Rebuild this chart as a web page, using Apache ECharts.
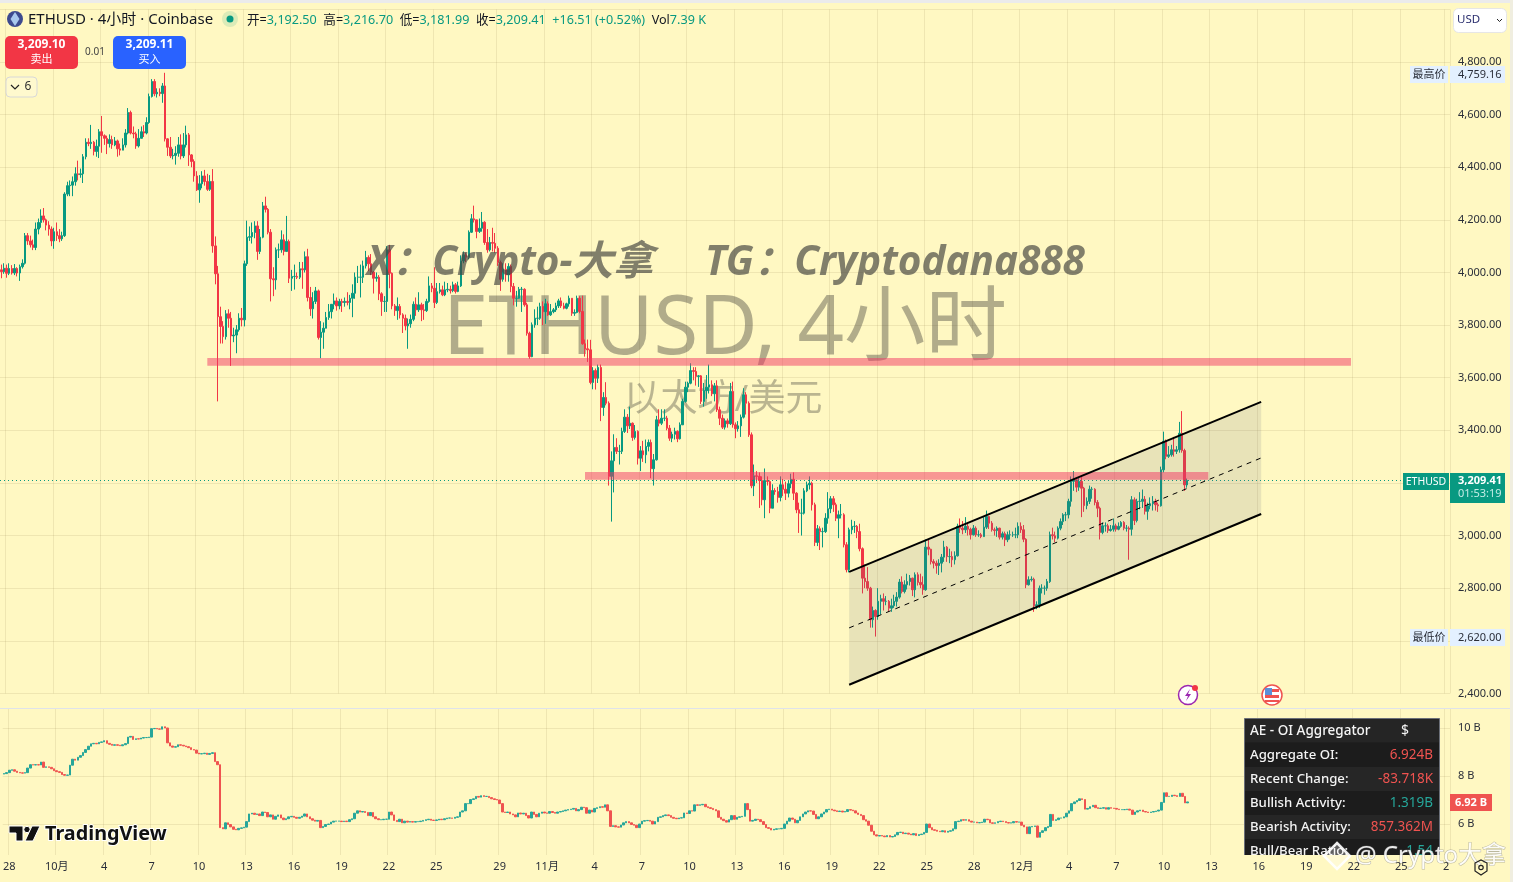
<!DOCTYPE html>
<html>
<head>
<meta charset="utf-8">
<title>ETHUSD 4H</title>
<style>
html, body { margin: 0; padding: 0; background: #FFF8C2; }
#chart { width: 1513px; height: 882px; }
</style>
<script src="https://cdn.jsdelivr.net/npm/echarts@6/dist/echarts.min.js"></script>
</head>
<body>
<div id="chart"></div>
<script>
// values, one column per 4h candle
var firstOpen = 4010;
var closes = [
4003,4016,3997,4015,3998,4015,3998,4022,4035,4140,
4120,4105,4095,4165,4190,4215,4200,4180,4165,4120,
4155,4140,4128,4140,4298,4330,4332,4345,4375,4372,
4375,4440,4495,4490,4495,4460,4480,4535,4520,4510,
4490,4505,4485,4500,4470,4465,4485,4530,4608,4530,
4527,4481,4510,4535,4530,4570,4669,4726,4679,4685,
4680,4709,4508,4476,4443,4445,4453,4485,4443,4485,
4523,4447,4422,4367,4314,4337,4367,4346,4316,4346,
4101,3995,3832,3795,3756,3843,3826,3759,3762,3782,
3826,3820,4033,4134,4136,4152,4177,4080,4134,4253,
4240,4153,3976,3972,4086,4086,4124,4080,4118,3978,
3985,3985,3982,4014,4010,4060,3905,3862,3890,3930,
3753,3773,3788,3829,3851,3879,3892,3873,3890,3886,
3890,3886,3902,3921,3982,3982,3982,4025,4057,4033,
4002,3978,3982,3919,3890,3890,4086,3997,3873,3855,
3871,3839,3826,3797,3805,3822,3879,3858,3877,3858,
3855,3890,3949,3940,3886,3927,3934,3915,3934,3936,
3931,3953,3928,3949,4044,4067,4058,4153,4204,4200,
4156,4168,4191,4114,4086,4114,4111,4092,4038,3974,
4012,3991,4023,3947,3902,3902,3936,3936,3877,3769,
3680,3801,3826,3826,3871,3851,3881,3839,3851,3858,
3873,3892,3873,3864,3881,3902,3845,3848,3902,3852,
3729,3710,3706,3582,3627,3598,3639,3487,3525,3503,
3225,3284,3335,3320,3320,3396,3450,3417,3427,3373,
3396,3294,3322,3307,3339,3354,3254,3288,3440,3427,
3446,3446,3408,3370,3385,3396,3368,3421,3510,3564,
3579,3627,3624,3605,3607,3510,3551,3564,3573,3539,
3569,3478,3446,3412,3436,3425,3548,3421,3406,3417,
3450,3535,3503,3383,3189,3227,3225,3209,3136,3209,
3205,3104,3171,3167,3145,3193,3176,3161,3197,3214,
3161,3098,3085,3085,3170,3193,3199,3117,2974,3026,
3015,3015,3066,3102,3140,3117,3066,3079,3079,2965,
2870,3022,3035,3035,3015,2950,2838,2825,2800,2680,
2715,2692,2750,2760,2750,2750,2724,2733,2750,2766,
2823,2787,2813,2825,2838,2794,2851,2822,2813,2794,
2956,2948,2901,2895,2886,2895,2918,2956,2920,2920,
2908,2923,3035,3028,3022,3035,3024,3003,3028,3003,
3003,2996,3032,3072,3047,3022,3019,3028,2994,3007,
2984,3003,3003,3003,3003,3035,3022,2986,2813,2832,
2834,2733,2737,2800,2800,2800,2825,3003,2999,2990,
3028,3053,3079,3079,3130,3206,3212,3184,3206,3180,
3114,3130,3176,3176,3126,3104,3012,3037,3037,3019,
3024,3037,3024,3035,3050,3028,3028,3024,3136,3057,
3130,3130,3138,3092,3113,3121,3130,3117,3113,3250,
3358,3301,3307,3326,3320,3326,3389,3323,3192.5,3209.41
];
var highs = [
4030,4035,4030,4035,4028,4032,4020,4030,4050,4150,
4150,4140,4125,4190,4205,4240,4245,4205,4195,4175,
4170,4190,4165,4155,4305,4345,4350,4365,4400,4425,
4395,4450,4510,4510,4561,4500,4505,4545,4595,4525,
4520,4525,4520,4515,4505,4490,4510,4545,4625,4615,
4555,4535,4545,4555,4560,4590,4680,4735,4735,4700,
4700,4720,4759,4510,4515,4470,4480,4515,4525,4530,
4558,4530,4450,4430,4385,4370,4385,4390,4375,4370,
4393,4137,4025,3870,3815,3857,3860,3850,3790,3800,
3845,3865,4045,4197,4175,4190,4195,4195,4165,4268,
4288,4245,4165,4020,4095,4110,4160,4145,4215,4125,
4010,4030,4000,4040,4040,4080,4090,3945,3925,3945,
3935,3815,3810,3850,3880,3880,3920,3905,3900,3900,
3905,3925,3915,3955,4000,4025,4030,4045,4082,4065,
4070,4005,4000,3990,3925,3910,4100,4105,4000,3880,
3905,3880,3845,3840,3825,3840,3890,3905,3925,3885,
3880,3900,3985,3960,4020,3960,3960,3950,3965,3960,
3950,3965,3960,3965,4065,4080,4075,4160,4222,4254,
4200,4205,4230,4195,4165,4135,4170,4150,4100,4045,
4035,4035,4035,4030,3960,3930,3945,3945,3940,3885,
3775,3810,3860,3870,3885,3890,3900,3890,3880,3865,
3885,3900,3905,3885,3885,3912,3900,3860,3912,3910,
3912,3745,3745,3744,3640,3635,3650,3650,3545,3583,
3510,3320,3385,3370,3345,3410,3480,3462,3490,3430,
3420,3400,3340,3360,3365,3365,3365,3310,3455,3480,
3480,3480,3455,3420,3395,3410,3400,3430,3520,3585,
3585,3655,3640,3640,3610,3610,3580,3610,3650,3590,
3580,3590,3490,3460,3445,3445,3580,3585,3430,3435,
3460,3560,3545,3510,3392,3270,3245,3240,3225,3255,
3225,3210,3195,3180,3185,3225,3215,3205,3210,3235,
3240,3165,3125,3140,3180,3205,3225,3205,3125,3040,
3035,3030,3085,3165,3150,3150,3125,3095,3120,3085,
2975,3030,3060,3055,3040,3045,2955,2890,2880,2805,
2730,2720,2800,2775,2780,2770,2755,2760,2775,2785,
2835,2845,2830,2855,2850,2840,2860,2860,2855,2845,
2985,2985,2950,2910,2905,2910,2930,2980,2960,2950,
2940,2940,3045,3065,3055,3070,3050,3030,3040,3035,
3020,3010,3070,3095,3075,3055,3030,3035,3030,3015,
3015,3015,3020,3015,3030,3050,3050,3040,2990,2845,
2845,2840,2750,2810,2815,2810,2835,3015,3030,3015,
3035,3065,3085,3090,3140,3225,3245,3215,3220,3225,
3185,3145,3190,3185,3180,3135,3110,3050,3050,3045,
3040,3065,3045,3050,3055,3055,3040,3035,3150,3145,
3140,3165,3175,3150,3125,3145,3150,3140,3125,3262,
3395,3365,3340,3345,3375,3340,3432,3473,3330,3216.7
];
var lows = [
3978,3995,3980,3990,3992,3990,3985,3968,4015,4030,
4105,4095,4085,4085,4145,4170,4190,4160,4140,4100,
4090,4120,4115,4120,4135,4290,4290,4290,4330,4350,
4360,4340,4430,4480,4470,4445,4440,4435,4455,4485,
4450,4475,4470,4480,4440,4445,4470,4475,4525,4525,
4510,4470,4475,4510,4515,4525,4565,4665,4670,4665,
4670,4645,4498,4443,4435,4430,4410,4440,4430,4435,
4475,4405,4400,4345,4310,4265,4320,4330,4310,4310,
4075,3955,3510,3730,3730,3745,3790,3645,3735,3693,
3775,3795,3795,4025,4120,4110,4130,4048,4070,4130,
4228,4145,3890,3910,3935,4055,4075,4065,4095,3960,
3930,3935,3975,3975,3938,4000,3890,3835,3825,3880,
3745,3674,3710,3790,3820,3825,3860,3855,3860,3850,
3870,3875,3860,3830,3900,3960,3905,3960,4015,4005,
3990,3920,3965,3895,3835,3850,3850,3940,3860,3835,
3820,3825,3770,3780,3710,3790,3815,3835,3850,3815,
3820,3850,3885,3925,3865,3880,3920,3910,3910,3925,
3920,3925,3920,3925,3945,4035,4040,4050,4150,4190,
4130,4150,4155,4105,4075,4080,4080,4075,4025,3930,
3965,3965,3965,3925,3875,3870,3900,3850,3870,3760,
3672,3678,3790,3800,3820,3800,3805,3835,3835,3845,
3850,3865,3865,3860,3860,3870,3835,3835,3845,3845,
3725,3680,3660,3575,3556,3555,3580,3435,3455,3495,
3190,3053,3164,3310,3270,3310,3390,3390,3405,3360,
3365,3270,3245,3280,3275,3320,3218,3190,3285,3415,
3420,3435,3400,3360,3355,3365,3355,3365,3420,3505,
3545,3575,3590,3570,3565,3500,3490,3520,3540,3530,
3510,3470,3420,3405,3403,3410,3420,3410,3370,3395,
3375,3445,3460,3375,3180,3150,3200,3105,3115,3066,
3190,3085,3130,3155,3125,3130,3150,3135,3145,3180,
3135,3085,3010,3000,3080,3165,3175,3095,2960,2960,
2945,2955,3010,3045,3085,3090,3055,2990,3065,2955,
2860,2860,3005,3010,2990,2940,2780,2800,2790,2650,
2650,2616,2680,2700,2715,2735,2710,2710,2725,2730,
2760,2780,2780,2795,2810,2770,2765,2810,2800,2775,
2790,2925,2890,2875,2855,2850,2860,2900,2900,2895,
2880,2890,2920,3010,3005,3010,3000,2985,3000,2995,
2995,2990,2995,3025,3025,3015,3000,2995,2985,2985,
2960,2975,2985,2995,2990,2990,3010,2975,2800,2810,
2825,2710,2720,2725,2780,2775,2790,2820,2985,2975,
2985,3020,3040,3055,3065,3110,3170,3165,3170,3070,
3090,3100,3120,3140,3115,3070,2985,3005,3015,3010,
3015,3015,3015,3020,3030,3020,3015,2908,3000,3040,
3050,3100,3105,3080,3060,3100,3095,3095,3090,3110,
3240,3290,3295,3300,3300,3310,3315,3315,3170,3181.99
];
// open interest panel, billions
var oiFirstOpen = 8.08;
var oiCloses = [
8.10,8.14,8.24,8.26,8.20,8.15,8.13,8.12,8.14,8.33,
8.47,8.46,8.47,8.46,8.58,8.36,8.38,8.36,8.30,8.22,
8.18,8.15,8.06,8.03,8.04,8.45,8.70,8.66,8.78,8.85,
8.98,9.10,9.24,9.34,9.36,9.34,9.40,9.42,9.47,9.36,
9.32,9.28,9.30,9.28,9.26,9.30,9.35,9.62,9.65,9.52,
9.55,9.54,9.58,9.60,9.60,9.62,9.97,9.98,9.96,9.95,
10.05,10.00,9.38,9.25,9.20,9.22,9.30,9.28,9.25,9.22,
9.18,9.10,9.08,8.95,8.92,8.93,8.95,8.90,8.94,8.97,
8.60,8.47,5.85,5.80,6.05,5.98,5.88,5.78,5.76,5.82,
5.84,5.87,6.10,6.42,6.45,6.40,6.42,6.35,6.50,6.48,
6.30,6.38,6.20,6.32,6.38,6.25,6.18,6.22,6.30,6.32,
6.28,6.24,6.28,6.33,6.42,6.30,6.22,6.16,6.12,6.15,
5.85,5.90,5.98,6.00,6.08,6.12,6.12,6.12,6.10,6.12,
6.10,6.18,6.22,6.45,6.55,6.50,6.52,6.48,6.35,6.48,
6.30,6.22,6.18,6.18,6.20,6.20,6.50,6.38,6.15,6.10,
6.20,6.05,6.12,6.08,6.10,6.08,6.10,6.10,6.12,6.15,
6.18,6.20,6.16,6.15,6.17,6.20,6.18,6.22,6.25,6.25,
6.24,6.28,6.30,6.50,6.55,6.85,6.85,7.02,7.05,7.15,
7.12,7.18,7.15,7.15,7.10,7.05,7.02,7.00,6.85,6.50,
6.48,6.50,6.42,6.38,6.30,6.46,6.42,6.45,6.35,6.25,
6.50,6.40,6.30,6.45,6.50,6.46,6.45,6.52,6.48,6.45,
6.50,6.52,6.55,6.58,6.60,6.62,6.65,6.55,6.60,6.70,
6.68,6.45,6.58,6.50,6.65,6.68,6.72,6.70,6.80,6.55,
5.90,5.93,5.88,5.87,5.96,6.05,6.10,6.05,5.98,5.95,
5.85,6.00,6.12,6.14,6.15,6.12,6.00,6.10,6.28,6.30,
6.35,6.38,6.35,6.28,6.24,6.22,6.25,6.26,6.46,6.44,
6.55,6.54,6.80,6.78,6.80,6.82,6.72,6.68,6.65,6.60,
6.55,6.28,6.20,6.14,6.08,6.18,6.35,6.20,6.28,6.30,
6.32,6.85,6.60,6.12,6.15,6.20,6.18,6.10,5.98,5.85,
5.82,5.75,5.78,5.80,5.80,5.82,6.00,6.12,6.25,6.20,
6.05,6.15,6.30,6.42,6.50,6.55,6.54,6.40,6.22,6.30,
6.42,6.50,6.60,6.62,6.58,6.55,6.52,6.54,6.50,6.52,
6.60,6.58,6.55,6.46,6.40,6.35,6.18,6.12,5.95,5.70,
5.55,5.50,5.52,5.50,5.47,5.52,5.46,5.48,5.55,5.65,
5.66,5.60,5.62,5.58,5.55,5.60,5.52,5.56,5.58,5.65,
6.00,5.85,5.76,5.74,5.70,5.68,5.72,5.66,5.70,5.72,
5.80,6.10,6.12,6.18,6.16,6.18,6.12,6.08,6.08,6.05,
6.06,6.08,6.20,6.18,6.05,6.03,6.05,6.10,6.12,6.10,
6.06,6.04,6.05,6.10,6.08,6.08,5.95,5.88,5.60,5.88,
5.90,5.92,5.45,5.65,5.72,5.85,5.90,6.40,6.15,6.18,
6.25,6.25,6.30,6.45,6.55,6.85,6.92,6.98,7.05,7.02,
6.62,6.65,6.72,6.78,6.68,6.65,6.66,6.68,6.62,6.68,
6.66,6.65,6.62,6.60,6.60,6.60,6.62,6.58,6.40,6.50,
6.55,6.58,6.52,6.50,6.48,6.50,6.52,6.54,6.58,6.90,
7.30,7.15,7.15,7.20,7.18,7.15,7.28,7.15,6.88,6.92
];
// x axis: slot number of each date label
var tickSlots = [2,20,38,56,74,92,110,128,146,164,188,206,224,242,260,278,296,314,332,350,368,386,404,422,440,458,476,494,512,530,547];
var tickTexts = ['28','10月','4','7','10','13','16','19','22','25','29','11月','4','7','10','13','16','19','22','25','28','12月','4','7','10','13','16','19','22','25','2'];
var slotCount = 549;
var priceTicks = [6, 8, 10];
var lastPrice = 3209.41;
// drawings: [slot, price]
var bandUpper = [78, 511, 3645, 3675];
var bandLower = [221, 457, 3212, 3242];
var channelTop = [[321, 2862], [477, 3508]];
var channelMid = [[321, 2649], [477, 3295]];
var channelBottom = [[321, 2433], [477, 3082]];
// the stats table
var tableRows = ['Aggregate OI:', 'Recent Change:', 'Bullish Activity:', 'Bearish Activity:', 'Bull/Bear Ratio:'];
var tableVals = ['6.924B', '-83.718K', '1.319B', '857.362M', '1.54'];

var UP = '#089981', DOWN = '#F23645', OI_UP = '#26A69A', OI_DOWN = '#EF5350';
var GRID = 'rgba(120,110,60,0.12)';
var FONT = '"Noto Sans","Noto Sans CJK SC",sans-serif';
var INK = '#2a2e39';

var categories = [];
for (var i = 0; i < slotCount; i++) {
    var at = tickSlots.indexOf(i);
    categories.push(at >= 0 ? tickTexts[at] : '');
}
function isTick(i) { return tickSlots.indexOf(i) >= 0; }

var candles = closes.map(function (c, i) {
    var o = i === 0 ? firstOpen : closes[i - 1];
    return [o, c, Math.min(lows[i], o, c), Math.max(highs[i], o, c)];
});
var oiCandles = oiCloses.map(function (c, i) {
    var o = i === 0 ? oiFirstOpen : oiCloses[i - 1];
    return [o, c, Math.min(o, c), Math.max(o, c)];
});

function drawDrawings(params, api) {
    function pt(p) { return api.coord(p); }
    function band(b, color) {
        var a = api.coord([b[0], b[3]]), c = api.coord([b[1], b[2]]);
        return { type: 'rect', shape: { x: a[0], y: a[1], width: c[0] - a[0], height: c[1] - a[1] }, style: { fill: color } };
    }
    function seg(line, dash, w) {
        var a = pt(line[0]), b = pt(line[1]);
        return { type: 'line', shape: { x1: a[0], y1: a[1], x2: b[0], y2: b[1] }, style: { stroke: '#000', lineWidth: w, lineDash: dash } };
    }
    return {
        type: 'group',
        children: [
            { type: 'polygon', shape: { points: [pt(channelTop[0]), pt(channelTop[1]), pt(channelBottom[1]), pt(channelBottom[0])] }, style: { fill: 'rgba(100,110,130,0.15)' } },
            band(bandUpper, 'rgba(242,54,100,0.5)'),
            band(bandLower, 'rgba(242,54,100,0.5)'),
            seg(channelTop, null, 2),
            seg(channelBottom, null, 2),
            seg(channelMid, [5, 5], 1)
        ]
    };
}

function box(x, y, w, h, fill, r, z, stroke) {
    return { type: 'rect', z: z || 30, shape: { x: x, y: y, width: w, height: h, r: r || 0 }, style: { fill: fill, stroke: stroke, lineWidth: stroke ? 1 : 0 } };
}
function label(x, y, text, size, color, extra) {
    var st = { x: x, y: y, text: text, fontFamily: FONT, fontSize: size, fill: color, textAlign: 'left', textVerticalAlign: 'middle' };
    extra = extra || {};
    for (var k in extra) { if (k !== 'z') st[k] = extra[k]; }
    return { type: 'text', z: extra.z || 31, style: st };
}

var elements = [
    // watermarks
    label(725, 331, 'ETHUSD, 4小时', 81.5, 'rgba(40,40,40,0.36)', { textAlign: 'center', z: 1 }),
    label(723, 400, '以太坊/美元', 37, 'rgba(40,40,40,0.32)', { textAlign: 'center', z: 1 }),
    label(367, 263, 'X：Crypto-大拿', 40.5, 'rgba(70,70,65,0.68)', { fontWeight: 'bold', fontStyle: 'italic', z: 20 }),
    label(705, 263, 'TG：Cryptodana888', 40.5, 'rgba(70,70,65,0.68)', { fontWeight: 'bold', fontStyle: 'italic', z: 20 }),

    // frame
    box(0, 0, 1513, 3, '#ebebeb', 0, 40),
    box(1510, 0, 3, 882, '#f0eee0', 0, 40),
    box(0, 708, 1450, 1, '#dfe3ea', 0, 5),
    box(1450, 708, 60, 1, '#dfe3ea', 0, 5),

    // legend
    { type: 'circle', z: 31, shape: { cx: 15, cy: 19, r: 8 }, style: { fill: '#3d4a8f' } },
    { type: 'polygon', z: 32, shape: { points: [[15, 12], [19.5, 19], [15, 26], [10.5, 19]] }, style: { fill: '#a9c8ee' } },
    label(28, 20, 'ETHUSD · 4小时 · Coinbase', 15, '#131722'),
    { type: 'circle', z: 31, shape: { cx: 230, cy: 19, r: 8 }, style: { fill: 'rgba(8,153,129,0.14)' } },
    { type: 'circle', z: 32, shape: { cx: 230, cy: 19, r: 3.5 }, style: { fill: UP } },
    {
        type: 'text', z: 31,
        style: {
            x: 247, y: 20, textVerticalAlign: 'middle', fontFamily: FONT, fontSize: 12.6,
            text: '{k|开=}{v|3,192.50}  {k|高=}{v|3,216.70}  {k|低=}{v|3,181.99}  {k|收=}{v|3,209.41}  {v|+16.51 (+0.52%)}  {k|Vol}{v|7.39 K}',
            rich: {
                k: { fill: '#131722', fontSize: 12.6, fontFamily: FONT },
                v: { fill: UP, fontSize: 12.6, fontFamily: FONT }
            }
        }
    },
    // buy and sell buttons
    box(5, 36, 73, 33, DOWN, 5),
    label(41.5, 45, '3,209.10', 12, '#fff', { textAlign: 'center', fontWeight: 'bold' }),
    label(41.5, 60, '卖出', 11, '#fff', { textAlign: 'center' }),
    label(95, 52, '0.01', 10, '#444', { textAlign: 'center' }),
    box(113, 36, 73, 33, '#2962FF', 5),
    label(149.5, 45, '3,209.11', 12, '#fff', { textAlign: 'center', fontWeight: 'bold' }),
    label(149.5, 60, '买入', 11, '#fff', { textAlign: 'center' }),
    box(6, 77, 31, 20, 'rgba(255,255,255,0.2)', 4, 30, '#d8d8d8'),
    { type: 'polyline', z: 31, shape: { points: [[11, 85], [15, 89], [19, 85]] }, style: { stroke: '#222', fill: null, lineWidth: 1.2 } },
    label(28, 87, '6', 12, '#333', { textAlign: 'center' }),
    box(1453.5, 8.5, 53, 24, '#fff', 5, 30, '#e6e6e6'),
    label(1457, 20, 'USD', 11.5, '#2a2e6e'),
    { type: 'polyline', z: 31, shape: { points: [[1497, 19], [1499.5, 21.5], [1502, 19]] }, style: { stroke: '#222', fill: null, lineWidth: 1 } },

    // price scale tags
    box(1410, 66, 38, 17, '#E3F0FF', 0),
    label(1429, 75, '最高价', 11, INK, { textAlign: 'center' }),
    box(1450, 66, 55, 17, '#E3F0FF', 0),
    label(1458, 74.5, '4,759.16', 11, INK),
    box(1410, 629, 38, 17, '#E3F0FF', 0),
    label(1429, 638, '最低价', 11, INK, { textAlign: 'center' }),
    box(1450, 629, 55, 17, '#E3F0FF', 0),
    label(1458, 637.5, '2,620.00', 11, INK),
    box(1403, 473, 46, 17, UP, 0),
    label(1426, 482, 'ETHUSD', 10.5, '#fff', { textAlign: 'center' }),
    box(1450, 473, 55, 30, UP, 0),
    label(1458, 481, '3,209.41', 11, '#fff', { fontWeight: 'bold' }),
    label(1458, 494, '01:53:19', 11, '#c4ece5'),
    box(1450, 794, 42, 17, OI_DOWN, 0),
    label(1471, 803, '6.92 B', 11, '#fff', { textAlign: 'center', fontWeight: 'bold' }),

    // event icons
    { type: 'circle', z: 31, shape: { cx: 1188, cy: 695, r: 9.5 }, style: { fill: '#fff', stroke: '#9c27b0', lineWidth: 1.5 } },
    { type: 'polygon', z: 32, shape: { points: [[1190, 689], [1185, 696], [1188, 696], [1186, 701], [1191, 694], [1188, 694]] }, style: { fill: '#9c27b0' } },
    { type: 'circle', z: 33, shape: { cx: 1195, cy: 688, r: 3 }, style: { fill: DOWN } },
    { type: 'circle', z: 31, shape: { cx: 1272, cy: 695, r: 10 }, style: { fill: '#fff', stroke: '#ef5350', lineWidth: 1.5 } },
    box(1265, 689, 14, 3, '#ef5350', 0, 32),
    box(1265, 695, 14, 3, '#ef5350', 0, 32),
    box(1265, 700, 14, 2, '#ef5350', 0, 32),
    box(1265, 688, 7, 7, '#5b8fd8', 0, 33),

    // TradingView mark
    { type: 'polygon', z: 31, shape: { points: [[9, 826], [23, 826], [23, 841], [16, 841], [16, 833], [9, 833]] }, style: { fill: '#111', stroke: '#fff', lineWidth: 1 } },
    { type: 'circle', z: 31, shape: { cx: 27, cy: 829.5, r: 3.2 }, style: { fill: '#111', stroke: '#fff', lineWidth: 1 } },
    { type: 'polygon', z: 31, shape: { points: [[32, 826], [40, 826], [33, 841], [25, 841]] }, style: { fill: '#111', stroke: '#fff', lineWidth: 1 } },
    label(45, 834, 'TradingView', 19.8, '#111', { fontWeight: 'bold', stroke: '#fff', lineWidth: 2 }),

    // stats table
    box(1244.5, 718.5, 195, 142, '#1f1f1f', 0, 34, '#6b6f78'),
    box(1245, 719, 194, 23, '#252525', 0, 34),
    label(1250, 731, 'AE - OI Aggregator', 13.5, '#f4f4f4', { z: 35, fontWeight: 500 }),
    label(1405, 731, '$', 14, '#f4f4f4', { z: 35, textAlign: 'center' })
];
var rowColors = [OI_DOWN, OI_DOWN, OI_UP, OI_DOWN, OI_UP];
tableRows.forEach(function (name, r) {
    var y = 743 + r * 24;
    elements.push(box(1245, y, 194, 24, r % 2 ? '#262626' : '#1c1c1c', 0, 34));
    elements.push(label(1250, y + 12, name, 13.2, '#f4f4f4', { z: 35, fontWeight: 500 }));
    elements.push(label(1433, y + 12, tableVals[r], 13.5, rowColors[r], { z: 35, textAlign: 'right' }));
});
// hides the part of the table below the pane, then the repost stamp on top
elements.push(box(1240, 855, 205, 27, '#FFF8C2', 0, 36));
elements.push({ type: 'polygon', z: 45, shape: { points: [[1337, 843], [1350, 856], [1337, 869], [1324, 856]] }, style: { fill: 'rgba(255,255,255,0.3)', stroke: 'rgba(255,255,255,0.9)', lineWidth: 2.5 } });
elements.push(label(1355, 856, '@ Crypto大拿', 24, 'rgba(255,255,255,0.9)', { z: 45, stroke: 'rgba(120,120,120,0.5)', lineWidth: 1 }));
elements.push({ type: 'polygon', z: 46, shape: { points: [[1475, 863], [1481, 860], [1487, 863], [1487, 871], [1481, 875], [1475, 871]] }, style: { fill: 'none', stroke: '#222', lineWidth: 1.2 } });
elements.push({ type: 'circle', z: 46, shape: { cx: 1481, cy: 867.5, r: 2.2 }, style: { fill: 'none', stroke: '#222', lineWidth: 1.2 } });

var myChart = echarts.init(document.getElementById('chart'), null, { renderer: 'canvas' });
var option = {
    animation: false,
    backgroundColor: '#FFF8C2',
    graphic: { elements: elements },
    grid: [
        { left: 0, right: 63, top: 9.4, height: 684 },
        { left: 0, right: 63, top: 709, height: 146 }
    ],
    xAxis: [
        {
            type: 'category', gridIndex: 0, data: categories, boundaryGap: true,
            axisLine: { show: false }, axisTick: { show: false }, axisLabel: { show: false },
            splitLine: { show: true, interval: function (i) { return isTick(i); }, lineStyle: { color: GRID } }
        },
        {
            type: 'category', gridIndex: 1, data: categories, boundaryGap: true,
            axisLine: { show: false }, axisTick: { show: false }, axisLabel: { show: false },
            splitLine: { show: true, interval: function (i) { return isTick(i); }, lineStyle: { color: GRID } }
        },
        {
            type: 'category', gridIndex: 1, position: 'bottom', data: categories, boundaryGap: true, z: 60,
            axisLine: { show: false }, axisTick: { show: false }, splitLine: { show: false },
            axisLabel: { show: true, interval: function (i) { return isTick(i); }, hideOverlap: false, margin: 6, color: INK, fontSize: 11, fontFamily: FONT }
        }
    ],
    yAxis: [
        {
            type: 'value', gridIndex: 0, position: 'right', min: 2400, max: 5000, interval: 200,
            axisLine: { show: false }, axisTick: { show: false },
            splitLine: { lineStyle: { color: GRID } },
            axisLabel: {
                margin: 8, color: INK, fontSize: 11, fontFamily: FONT, showMaxLabel: false,
                formatter: function (v) { return v.toLocaleString('en-US', { minimumFractionDigits: 2 }); }
            }
        },
        {
            type: 'value', gridIndex: 1, position: 'right', min: 4.71, max: 10.79,
            axisLine: { show: false },
            axisTick: { show: false, customValues: priceTicks },
            splitLine: { lineStyle: { color: GRID } },
            axisLabel: {
                customValues: priceTicks, margin: 8, color: INK, fontSize: 11, fontFamily: FONT,
                formatter: function (v) { return v + ' B'; }
            }
        }
    ],
    series: [
        {
            name: 'ETHUSD', type: 'candlestick', xAxisIndex: 0, yAxisIndex: 0, data: candles, z: 3,
            barWidth: 2, large: false,
            itemStyle: { color: UP, color0: DOWN, borderColor: UP, borderColor0: DOWN, borderWidth: 1 },
            markLine: {
                silent: true, symbol: 'none', label: { show: false },
                lineStyle: { color: UP, type: [1, 3], width: 1 },
                data: [{ yAxis: lastPrice }]
            }
        },
        {
            name: 'drawings', type: 'custom', xAxisIndex: 0, yAxisIndex: 0, z: 6, clip: false, silent: true,
            renderItem: drawDrawings, data: [[0, lastPrice]]
        },
        {
            name: 'OI', type: 'candlestick', xAxisIndex: 1, yAxisIndex: 1, data: oiCandles, z: 3,
            barWidth: 2, large: false,
            itemStyle: { color: OI_UP, color0: OI_DOWN, borderColor: OI_UP, borderColor0: OI_DOWN, borderWidth: 1 }
        }
    ]
};
myChart.setOption(option);
</script>
</body>
</html>
